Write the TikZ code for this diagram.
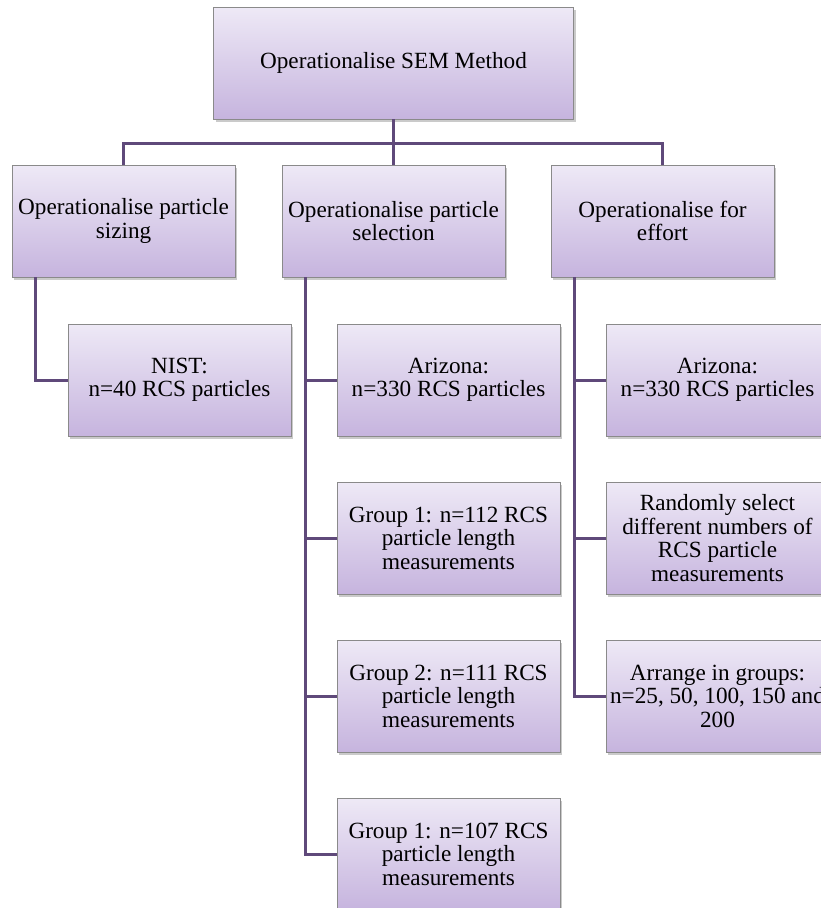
\documentclass[tikz,border=0pt]{standalone}
\usepackage{fontspec}
\setmainfont{Liberation Serif}
\usetikzlibrary{shadows}
\definecolor{linepurple}{HTML}{5F497A}
\definecolor{boxtop}{HTML}{EEE9F6}
\definecolor{boxbot}{HTML}{C6B4DE}
\definecolor{boxedge}{HTML}{8A8A8A}
\tikzset{
  box/.style={draw=boxedge, line width=0.8pt, top color=boxtop, bottom color=boxbot,
    minimum width=223pt, minimum height=112pt, inner sep=0pt, align=center,
    font=\fontsize{23.2}{23.5}\selectfont,
    drop shadow={shadow xshift=2pt, shadow yshift=-2.5pt, opacity=0.35, fill=black!60}},
  conn/.style={draw=linepurple, line width=3pt}
}
\begin{document}
\begin{tikzpicture}[x=1pt,y=-1pt]
\useasboundingbox (0,0) rectangle (821,908);
\clip (0,0) rectangle (821,908);
% top
\node[box, minimum width=360pt] (top) at (393.5,63) {Operationalise SEM Method};
% level 2
\node[box] (a) at (123.5,221) {Operationalise particle\\sizing};
\node[box] (b) at (393.5,221) {Operationalise particle\\selection};
\node[box] (c) at (662.5,221) {Operationalise for\\effort};
% left column
\node[box] (a1) at (179.5,380) {NIST:\\n=40 RCS particles};
% middle column
\node[box] (b1) at (448.5,380) {Arizona:\\n=330 RCS particles};
\node[box] (b2) at (448.5,538) {Group 1: n=112 RCS\\particle length\\measurements};
\node[box] (b3) at (448.5,696) {Group 2: n=111 RCS\\particle length\\measurements};
\node[box] (b4) at (448.5,854) {Group 1: n=107 RCS\\particle length\\measurements};
% right column
\node[box] (c1) at (717.5,380) {Arizona:\\n=330 RCS particles};
\node[box] (c2) at (717.5,538) {Randomly select\\different numbers of\\RCS particle\\measurements};
\node[box] (c3) at (717.5,696) {Arrange in groups:\\n=25, 50, 100, 150 and\\200};
% connectors
\coordinate (bus) at (393.5,143);
\draw[conn] (top.south) -- (bus);
\draw[conn] (a.north) |- (bus) -| (c.north);
\draw[conn] (bus) -- (b.north);
\coordinate (as) at ([xshift=-88.5pt]a.south);
\coordinate (bs) at ([xshift=-88.5pt]b.south);
\coordinate (cs) at ([xshift=-88.5pt]c.south);
\draw[conn] (as) |- (a1.west);
\draw[conn] (bs) |- (b4.west);
\draw[conn] (bs |- b1.west) -- (b1.west);
\draw[conn] (bs |- b2.west) -- (b2.west);
\draw[conn] (bs |- b3.west) -- (b3.west);
\draw[conn] (cs) |- (c3.west);
\draw[conn] (cs |- c1.west) -- (c1.west);
\draw[conn] (cs |- c2.west) -- (c2.west);
\end{tikzpicture}
\end{document}
